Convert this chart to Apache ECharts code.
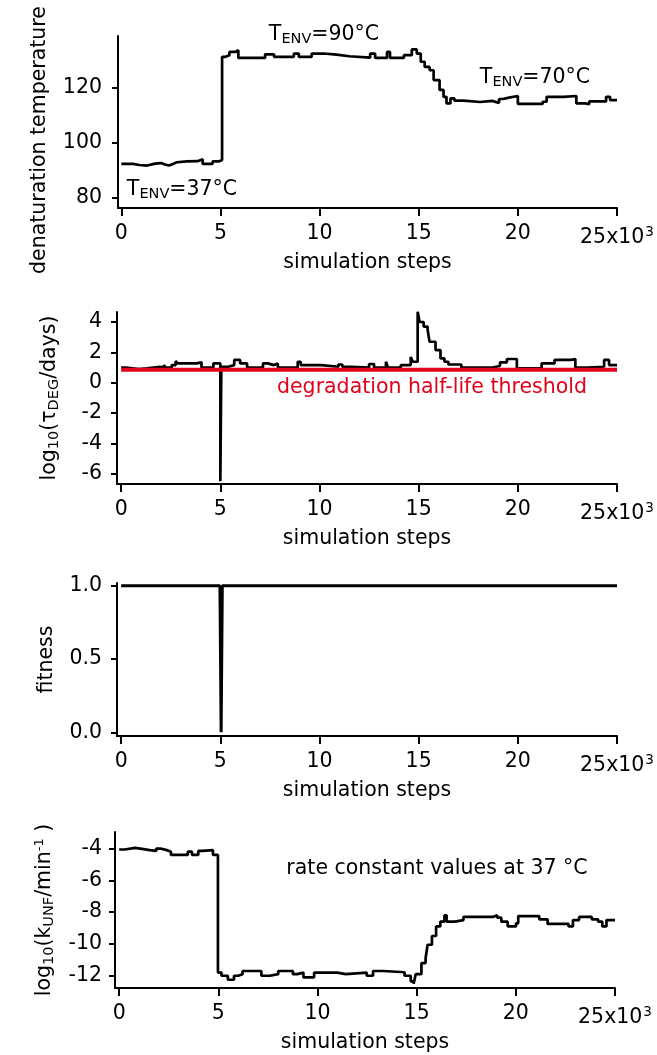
<!DOCTYPE html>
<html>
<head>
<meta charset="utf-8">
<script src="https://cdn.jsdelivr.net/npm/echarts@6/dist/echarts.min.js"></script>
<style>
  html, body { margin: 0; padding: 0; background: #fff; }
  #chart { width: 657px; height: 1055px; }
</style>
</head>
<body>
<div id="chart"></div>
<script>
// x-axis ticks shared by all four panels (simulation steps)
const xTickValues = [0, 5000, 10000, 15000, 20000, 25000];

// Panel 1: denaturation temperature (step trace)
const denatSteps = [0, 600, 900, 1300, 1700, 2000, 2200, 2400, 2600, 2800, 3300, 3850, 4100, 4600, 4920, 5080, 5250, 5450, 5750, 5900, 7250, 7700, 8700, 8950, 9600, 10200, 10850, 11500, 12550, 12800, 13400, 13550, 14250, 14650, 14900, 15100, 15300, 15550, 15750, 16050, 16250, 16400, 16600, 16800, 17250, 18100, 18700, 19050, 19250, 19550, 20000, 21250, 21450, 22300, 22950, 23400, 23600, 24450, 24650, 25000];
const denatValues = [92.2, 91.8, 91.6, 92.3, 92.5, 92.0, 91.6, 92.2, 92.8, 93.1, 93.2, 93.9, 92.2, 93.1, 93.6, 131.3, 131.9, 133.1, 133.7, 130.9, 132.2, 131.3, 132.5, 131.3, 132.5, 132.1, 131.5, 131.0, 132.5, 130.9, 133.1, 130.9, 131.9, 134.0, 132.5, 129.5, 127.6, 126.4, 122.8, 119.2, 116.7, 114.3, 116.1, 115.3, 114.8, 115.2, 114.5, 115.9, 116.4, 117.0, 114.1, 114.9, 116.7, 117.0, 114.3, 114.0, 115.0, 116.7, 115.5, 115.5];
const denatTicks = [80, 100, 120];

// Panel 2: log10 degradation half-life (step trace) and threshold
const degSteps = [0, 250, 900, 1300, 1950, 2150, 2250, 2550, 2750, 2850, 3800, 4050, 4650, 5000, 5050, 5400, 5700, 6000, 6350, 7150, 7400, 7700, 7900, 8900, 9050, 10100, 10950, 11150, 11600, 12500, 12750, 13350, 13450, 14100, 14600, 14700, 14950, 15050, 15250, 15450, 15550, 15850, 16100, 16300, 16500, 17150, 18700, 19100, 19450, 19950, 21200, 21850, 22700, 22900, 23500, 24350, 24600, 25000];
const degValues = [1.0, 0.9, 0.95, 1.05, 1.0, 1.15, 1.0, 1.16, 1.43, 1.27, 1.34, 1.0, 1.27, -6.5, 1.05, 1.16, 1.5, 1.27, 1.0, 1.27, 1.16, 1.27, 1.0, 1.38, 1.16, 1.05, 1.2, 1.05, 1.0, 1.23, 1.0, 1.38, 1.0, 1.16, 1.7, 1.38, 4.68, 4.0, 3.7, 3.5, 2.7, 2.15, 1.6, 1.38, 1.2, 1.0, 1.1, 1.34, 1.56, 0.95, 1.27, 1.5, 1.56, 1.0, 1.05, 1.5, 1.16, 1.16];
const degThreshold = 0.85;
const degTicks = [-6, -4, -2, 0, 2, 4];

// Panel 3: fitness
const fitnessSteps = [0, 4980, 5040, 5100, 25000];
const fitnessValues = [1, 1, 0, 1, 1];
const fitnessTicks = [0, 0.5, 1];

// Panel 4: log10 unfolding rate constant at 37 °C (step trace)
const kunfSteps = [0, 280, 800, 1230, 1550, 1870, 2080, 2400, 2610, 3460, 3670, 3990, 4200, 4730, 4980, 5160, 5480, 5790, 6000, 6220, 7170, 7600, 8020, 8760, 8980, 9290, 9830, 10990, 11420, 12480, 12800, 13330, 14390, 14700, 14850, 14950, 15240, 15450, 15550, 15770, 15980, 16190, 16400, 16510, 16930, 17360, 18840, 19060, 19270, 19590, 20010, 20120, 21180, 21600, 22660, 22880, 23190, 23830, 24150, 24360, 24570, 25000];
const kunfValues = [-4.06, -3.96, -4.04, -4.1, -4.15, -4.0, -4.1, -4.2, -4.4, -4.2, -4.4, -4.15, -4.1, -4.4, -11.8, -12.0, -12.25, -12.0, -11.9, -11.7, -12.0, -11.9, -11.7, -11.9, -11.8, -12.1, -11.8, -11.9, -11.8, -12.0, -11.7, -11.78, -12.0, -12.35, -12.5, -11.9, -11.2, -10.9, -10.05, -9.5, -8.9, -8.6, -8.2, -8.6, -8.5, -8.3, -8.2, -8.35, -8.6, -8.9, -8.7, -8.25, -8.45, -8.74, -8.9, -8.5, -8.3, -8.45, -8.6, -8.9, -8.5, -8.5];
const kunfTicks = [-12, -10, -8, -6, -4];

const FONT = '"DejaVu Sans", "Open Sans", sans-serif';
const FS = 20.5;
const RED = '#e3001b';
const LINE_W = 2.7;
const zip = (xs, ys) => xs.map((x, i) => [x, ys[i]]);

const subStyle = { fontSize: 14.5, fontFamily: FONT, color: '#000', verticalAlign: 'bottom', lineHeight: 14 };
const supStyle = { fontSize: 13, fontFamily: FONT, color: '#000', verticalAlign: 'top', lineHeight: 13 };

function xAxisFor(gridIndex, min) {
  return {
    type: 'value', gridIndex: gridIndex, min: min, max: 25000,
    axisLine: { show: true, onZero: false, lineStyle: { color: '#000', width: 2 } },
    axisTick: { show: true, customValues: xTickValues, length: 8, lineStyle: { color: '#000', width: 2 } },
    axisLabel: {
      customValues: xTickValues, margin: 15, fontSize: FS, fontFamily: FONT, color: '#000',
      formatter: v => v === 25000 ? '{big|25x10}{sup|3}' : String(v / 1000),
      rich: {
        big: { fontSize: FS, fontFamily: FONT, color: '#000', lineHeight: 22, padding: [8, 0, 0, 0] },
        sup: { fontSize: 13.5, fontFamily: FONT, color: '#000', lineHeight: 14, verticalAlign: 'top', padding: [2, 0, 0, 1] }
      }
    },
    splitLine: { show: false },
    name: 'simulation steps', nameLocation: 'middle', nameGap: 44,
    nameTextStyle: { fontSize: FS, fontFamily: FONT, color: '#000' }
  };
}

function yAxisFor(gridIndex, min, max, ticks, fmt, name, nameGap, margin, namePadding) {
  return {
    type: 'value', gridIndex: gridIndex, min: min, max: max,
    axisLine: { show: true, onZero: false, lineStyle: { color: '#000', width: 2 } },
    axisTick: { show: true, customValues: ticks, length: 6, lineStyle: { color: '#000', width: 2 } },
    axisLabel: { customValues: ticks, margin: margin, fontSize: FS, fontFamily: FONT, color: '#000', formatter: fmt },
    splitLine: { show: false },
    name: name, nameLocation: 'middle', nameGap: nameGap, nameRotate: 90,
    nameTextStyle: {
      fontSize: FS, fontFamily: FONT, color: '#000', lineHeight: 24,
      padding: namePadding || 0,
      rich: { s: subStyle, p: supStyle }
    }
  };
}

function stepLine(idx, data) {
  return {
    type: 'line', xAxisIndex: idx, yAxisIndex: idx, data: data, step: 'end',
    symbol: 'none', lineStyle: { color: '#000', width: LINE_W }, z: 2
  };
}

// fixed plot rectangles; labels are allowed to sit outside them
function gridAt(left, top, width, height) {
  return { left: left, top: top, width: width, height: height, containLabel: false, outerBoundsMode: 'none' };
}

const chart = echarts.init(document.getElementById('chart'), null, { renderer: 'canvas' });

const richT = {
  t: { fontSize: FS, fontFamily: FONT, color: '#000', lineHeight: 24 },
  s: { fontSize: 14.5, fontFamily: FONT, color: '#000', lineHeight: 14, verticalAlign: 'bottom' }
};

chart.setOption({
  animation: false,
  backgroundColor: '#fff',
  grid: [
    gridAt(118, 36, 499, 172),
    gridAt(117, 312, 500, 172),
    gridAt(117, 583, 500, 153),
    gridAt(115, 832, 500, 156)
  ],
  xAxis: [xAxisFor(0, -170), xAxisFor(1, -210), xAxisFor(2, -210), xAxisFor(3, -210)],
  yAxis: [
    yAxisFor(0, 76.1, 138.9, denatTicks, v => String(v), 'denaturation temperature', 63, 16, [0, 36, 0, 0]),
    yAxisFor(1, -6.68, 4.66, degTicks, v => String(v), 'log{s|10}(τ{s|DEG}/days)', 55, 15),
    yAxisFor(2, -0.025, 1.018, fitnessTicks, v => v.toFixed(1), 'fitness', 58, 15),
    yAxisFor(3, -12.77, -2.96, kunfTicks, v => String(v), 'log{s|10}(k{s|UNF}/min{p|-1} )', 58, 13)
  ],
  series: [
    stepLine(0, zip(denatSteps, denatValues)),
    stepLine(1, zip(degSteps, degValues)),
    {
      type: 'line', xAxisIndex: 1, yAxisIndex: 1, symbol: 'none', z: 3,
      data: [[0, degThreshold], [25000, degThreshold]],
      lineStyle: { color: RED, width: 4 }
    },
    {
      type: 'line', xAxisIndex: 2, yAxisIndex: 2, symbol: 'none',
      data: zip(fitnessSteps, fitnessValues),
      lineStyle: { color: '#000', width: 3 }
    },
    stepLine(3, zip(kunfSteps, kunfValues))
  ],
  graphic: [
    { type: 'text', x: 324, y: 35, style: { text: '{t|T}{s|ENV}{t|=90°C}', rich: richT, align: 'center', verticalAlign: 'middle' } },
    { type: 'text', x: 535, y: 78, style: { text: '{t|T}{s|ENV}{t|=70°C}', rich: richT, align: 'center', verticalAlign: 'middle' } },
    { type: 'text', x: 182, y: 190, style: { text: '{t|T}{s|ENV}{t|=37°C}', rich: richT, align: 'center', verticalAlign: 'middle' } },
    { type: 'text', x: 432, y: 388, style: { text: 'degradation half-life threshold', fill: RED, font: FS + 'px ' + FONT, align: 'center', verticalAlign: 'middle' } },
    { type: 'text', x: 437, y: 869, style: { text: 'rate constant values at 37 °C', fill: '#000', font: FS + 'px ' + FONT, align: 'center', verticalAlign: 'middle' } }
  ]
});
</script>
</body>
</html>
